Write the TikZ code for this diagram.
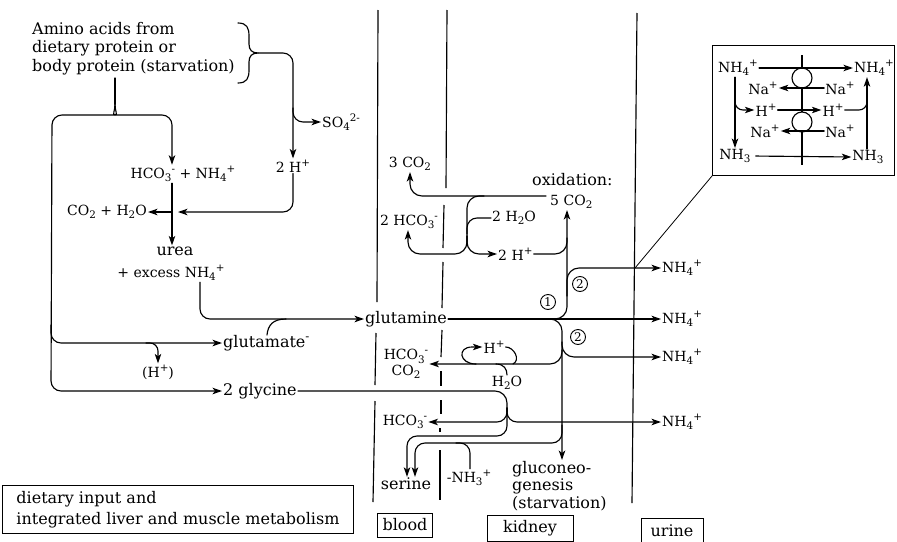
\documentclass[tikz,border=0pt]{standalone}
\usepackage{fontspec}
\setmainfont{DejaVu Serif}
\usetikzlibrary{arrows.meta}
\makeatletter
\newcommand{\chsub}[1]{\raisebox{-0.45ex}{\fontsize{\fpeval{0.74*\f@size}}{1}\selectfont #1}}
\newcommand{\chsup}[1]{\raisebox{0.85ex}{\fontsize{\fpeval{0.74*\f@size}}{1}\selectfont #1}}
\makeatother
\begin{document}
\begin{tikzpicture}[x=1pt,y=-1pt,
  big/.style={font=\fontsize{16}{18.5}\selectfont, inner sep=1pt},
  small/.style={font=\fontsize{14}{15.5}\selectfont, inner sep=1pt},
  ln/.style={line width=1.15pt, line cap=round, line join=round},
  arr/.style={ln, -{Stealth[length=9.5pt,width=6.5pt,inset=2.5pt]}},
  wall/.style={line width=1.15pt},
  lbox/.style={draw, line width=0.9pt, font=\fontsize{16}{18.5}\selectfont, inner sep=0pt},
  num/.style={circle, draw, line width=0.9pt, inner sep=0pt, minimum size=15pt, font=\fontsize{12}{12}\selectfont}]
\useasboundingbox (0,0) rectangle (897,541);

% ---------- walls ----------
\draw[wall] (378,10) -- (377,302);
\draw[wall] (376,333) -- (375,385);
\draw[wall] (375,401) -- (373,502);
\draw[wall] (447,10) -- (446,188);
\draw[wall] (444,205) -- (443,248);
\draw[wall] (443,262) -- (442,308);
\draw[wall] (442,330) -- (441,357);
\draw[wall] (441,371) -- (441,386);
\draw[wall] (441,400) -- (441,414);
\draw[wall] (440,428) -- (440,432);
\draw[wall] (440,450) -- (440,500);
\draw[wall] (637,13) -- (632,503);

% ---------- left part nodes ----------
\node[big, align=left, anchor=north west] (amino) at (31,21) {Amino acids from\\dietary protein or\\body protein (starvation)};
\node[small] (twoH) at (293,166) {2 H\chsup{+}};
\node[small, anchor=west] (so4) at (321,122) {SO\chsub{4}\chsup{2-}};
\node[small] (hco3) at (183,174) {HCO\chsub{3}\chsup{-} + NH\chsub{4}\chsup{+}};
\node[small, anchor=east] (co2h2o) at (148,212) {CO\chsub{2} + H\chsub{2}O};
\node[big] (urea) at (175,251) {urea};
\node[small] (excess) at (171,273) {+ excess NH\chsub{4}\chsup{+}};
\node[big, anchor=west] (glutamine) at (364,319) {glutamine};
\node[big, anchor=west] (glutamate) at (222,343) {glutamate\chsup{-}};
\node[small] (hpar) at (158,372) {(H\chsup{+})};
\node[big, anchor=west] (glycine) at (222,391) {2 glycine};

% ---------- blood / kidney nodes ----------
\node[small] (threeco2) at (410,164) {3 CO\chsub{2}};
\node[big, anchor=west] (oxid) at (531,180) {oxidation:};
\node[small, anchor=west] (fiveco2) at (549,202) {5 CO\chsub{2}};
\node[small] (twohco3) at (409,222) {2 HCO\chsub{3}\chsup{-}};
\node[small, anchor=west] (twoh2o) at (491,218) {2 H\chsub{2}O};
\node[small, anchor=west] (twoHb) at (497,254) {2 H\chsup{+}};
\node[small, align=center] (hco3c) at (406,364) {HCO\chsub{3}\chsup{-}\\CO\chsub{2}};
\node[small] (hplus2) at (494,347) {H\chsup{+}};
\node[small] (h2o) at (507,383) {H\chsub{2}O};
\node[small] (hco3b) at (405,422) {HCO\chsub{3}\chsup{-}};
\node[big] (serine) at (406,484) {serine};
\node[small] (nh3) at (469,478) {-NH\chsub{3}\chsup{+}};
\node[align=left, anchor=north west, font=\fontsize{16}{17.5}\selectfont, inner sep=1pt] (gluco) at (511,460) {gluconeo-\\genesis\\(starvation)};

\node[num] (c1) at (548,302) {1};
\node[num] (c2a) at (580,284) {2};
\node[num] (c2b) at (578,337) {2};

% ---------- urine ----------
\node[small, anchor=west] (u1) at (661,268) {NH\chsub{4}\chsup{+}};
\node[small, anchor=west] (u2) at (661,319) {NH\chsub{4}\chsup{+}};
\node[small, anchor=west] (u3) at (661,357) {NH\chsub{4}\chsup{+}};
\node[small, anchor=west] (u4) at (661,422) {NH\chsub{4}\chsup{+}};

% ---------- left connectors ----------
\draw[ln] (238,23) .. controls (247,23) and (249,28) .. (249,36) -- (249,44)
  .. controls (249,50) and (252,53) .. (258,53)
  .. controls (252,53) and (249,56) .. (249,62) -- (249,70)
  .. controls (249,78) and (247,83) .. (238,83);
\draw[arr, rounded corners=10pt] (258,53) -- (293,53) -- (twoH.north);
\draw[arr, rounded corners=10pt] (293,108) -- (293,122) -- (so4.west);
\draw[arr, rounded corners=10pt] (twoH.south) -- (293,212) -- (178,212);
\draw[arr] (172,212) -- (co2h2o.east);

\draw[ln] (115,78) -- (115,104);
\draw[arr, rounded corners=10pt] (115,104) .. controls (115,111) and (112,115) .. (105,115) -- (52,115) -- (51,391) -- (glycine.west);
\draw[arr, rounded corners=10pt] (51,325) -- (51,343) -- (glutamate.west);
\draw[arr, rounded corners=10pt] (115,104) .. controls (115,111) and (118,115) .. (125,115) -- (172,115) -- (hco3.north -| 172,0);
\draw[arr] (hco3.south -| 172,0) -- (urea.north -| 172,0);
\draw[arr, rounded corners=10pt] (excess.south -| 200,0) -- (200,319) -- (glutamine.west);
\draw[ln] (267,335) .. controls (268,325) and (273,319) .. (286,319);
\draw[arr, rounded corners=8pt] (146,343) -- (158,343) -- (hpar.north);

% ---------- glycine ----------
\draw[ln, rounded corners=12pt] (glycine.east) -- (507,391) -- (507,412);
\draw[arr, rounded corners=10pt] (507,408) -- (507,422) -- (u4.west);
\draw[arr, rounded corners=10pt] (507,408) -- (507,422) -- (hco3b.east);
\draw[arr, rounded corners=10pt] (507,408) -- (507,436) -- (407,436) -- (serine.north -| 407,0);
\draw[arr, rounded corners=10pt] (562,425) -- (562,443) -- (415,443) -- (serine.north -| 415,0);
\draw[ln, rounded corners=10pt] (nh3.north -| 470,0) -- (470,443) -- (456,443);

% ---------- glutamine ----------
\draw[arr] (glutamine.east) -- (u2.west);
\draw[arr, rounded corners=12pt] (546,319) -- (567,319) -- (fiveco2.south -| 567,0);
\draw[arr, rounded corners=12pt] (546,319) -- (562,319) -- (gluco.north -| 562,0);
\draw[arr, rounded corners=12pt] (567,296) -- (567,268) -- (u1.west);
\draw[arr, rounded corners=12pt] (562,342) -- (562,357) -- (u3.west);
\draw[arr, rounded corners=12pt] (562,350) -- (562,364) -- (hco3c.east);
\draw[arr] (476,364) .. controls (459,364) and (457,347) .. (472,347) -- (hplus2.west);
\draw[ln] (hplus2.east) .. controls (514,347) and (521,360) .. (513,364);
\draw[ln] (h2o.north) .. controls (507,369) and (504,364) .. (496,364);

% ---------- oxidation ----------
\draw[arr, rounded corners=12pt] (546,196) -- (410,196) -- (threeco2.south);
\draw[ln, rounded corners=12pt] (484,196) -- (467,196) -- (467,245);
\draw[arr, rounded corners=12pt] (467,236) -- (467,254) -- (408,254) -- (twohco3.south -| 408,0);
\draw[arr, rounded corners=12pt] (467,236) -- (467,254) -- (twoHb.west);
\draw[ln, rounded corners=10pt] (twoh2o.west) -- (467,218) -- (467,234);
\draw[ln, rounded corners=12pt] (twoHb.east) -- (567,254) -- (567,238);

% ---------- inset ----------
\node[draw, line width=1pt, minimum width=182pt, minimum height=130pt, anchor=north west, inner sep=0pt] (inset) at (712,45) {};
\draw[ln, line width=0.8pt] (inset.south west) -- (635,268);
\draw[wall] (802,55) -- (802,165);
\draw[ln, fill=white] (802,78) circle[radius=10pt];
\draw[ln, fill=white] (802,122) circle[radius=10pt];
\node[small] (i1) at (738,68) {NH\chsub{4}\chsup{+}};
\node[small] (i2) at (874,68) {NH\chsub{4}\chsup{+}};
\node[small] (i3) at (763,88) {Na\chsup{+}};
\node[small] (i4) at (840,88) {Na\chsup{+}};
\node[small] (i5) at (766,110) {H\chsup{+}};
\node[small] (i6) at (833,110) {H\chsup{+}};
\node[small] (i7) at (765,131) {Na\chsup{+}};
\node[small] (i8) at (840,131) {Na\chsup{+}};
\node[small] (i9) at (735,156) {NH\chsub{3}};
\node[small] (i10) at (868,157) {NH\chsub{3}};
\draw[arr] (i1.east) -- (i2.west);
\draw[arr] (i4.west) -- (i3.east);
\draw[arr] (i5.east) -- (i6.west);
\draw[arr] (i8.west) -- (i7.east);
\draw[arr, shorten <=4pt] (i9.east) -- (i10.west);
\draw[arr] (i1.south -| 735,0) -- (i9.north -| 735,0);
\draw[arr, rounded corners=8pt] (735,98) -- (735,110) -- (i5.west);
\draw[arr] (i10.north -| 867,0) -- (i2.south -| 867,0);
\draw[ln, rounded corners=8pt] (i6.east) -- (867,110) -- (867,100);

% ---------- labels ----------
\node[draw, line width=0.9pt, align=left, anchor=north west, minimum width=351pt, minimum height=48pt, inner sep=0pt, font=\fontsize{16}{21}\selectfont] (diet) at (2,485) {dietary input and\\integrated liver and muscle metabolism};
\node[lbox, minimum width=55pt, minimum height=24pt] (blood) at (405,525) {blood};
\node[lbox, minimum width=86pt, minimum height=26pt] (kidney) at (530,528) {kidney};
\node[lbox, minimum width=62pt, minimum height=26pt] (urine) at (672,531) {urine};
\end{tikzpicture}
\end{document}
